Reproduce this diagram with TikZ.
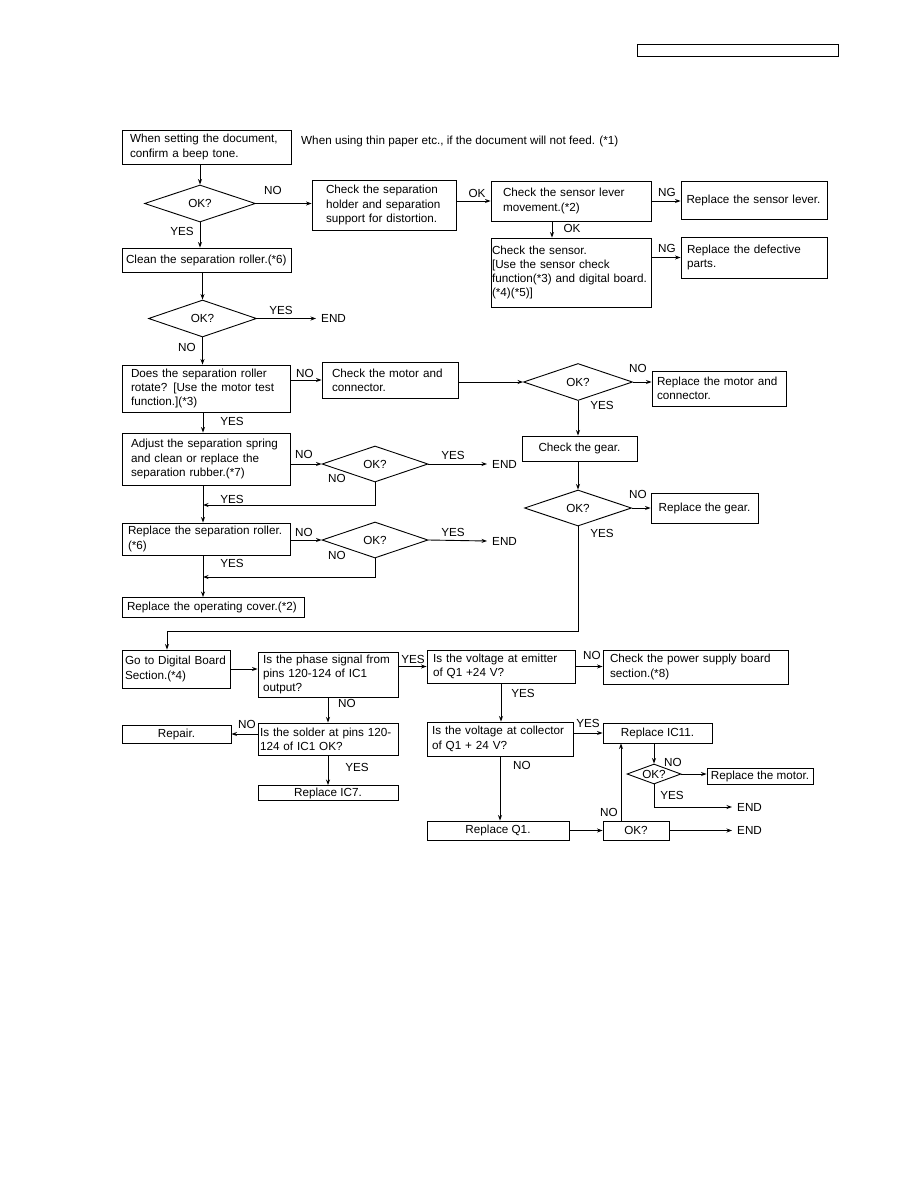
\documentclass[tikz,border=0pt]{standalone}
\usepackage{fontspec}
\setmainfont{Liberation Sans}
\usetikzlibrary{shapes.geometric,arrows.meta}

\begin{document}
\begin{tikzpicture}[x=1pt,y=-1pt,>={Stealth[length=5.5pt,width=4pt]},font=\fontsize{11.7}{14.3}\selectfont]
  \tikzstyle{box}=[draw, line width=0.9pt, align=left, inner sep=0pt]
  \tikzstyle{cbox}=[draw, line width=0.9pt, align=center, inner sep=0pt]
  \tikzstyle{dia}=[draw, line width=0.9pt, diamond, aspect=3, inner sep=0pt]
  \tikzstyle{lbl}=[inner sep=0pt]
  \tikzstyle{endlbl}=[anchor=west, inner xsep=5pt, inner ysep=0pt]
  \tikzstyle{flow}=[->, line width=0.9pt]

  \useasboundingbox (0,0) rectangle (918,1188);
  \fill[white] (0,0) rectangle (918,1188);
  \node[cbox, minimum width=201pt, minimum height=12pt] (hdr) at (737.5,50) {};

  % upper part: paper feed
  \node[box, minimum width=169pt, minimum height=34pt, text width=153pt] (b1) at (206.5,147)
    {When setting the document,\\confirm a beep tone.};
  \node[lbl, anchor=west] (note) at (301,141)
    {When using thin paper etc., if the document will not feed. (*1)};
  \node[dia, minimum width=111pt, minimum height=37pt] (d1) at (200,203.5) {OK?};
  \node[box, minimum width=144pt, minimum height=50pt, text width=116pt] (sep) at (384,205)
    {Check the separation\\holder and separation\\support for distortion.};
  \node[box, minimum width=160pt, minimum height=40pt, text width=136pt] (lever) at (571,201)
    {Check the sensor lever\\movement.(*2)};
  \node[box, minimum width=146pt, minimum height=38pt, text width=135pt] (rsl) at (754,200)
    {Replace the sensor lever.};
  \node[box, minimum width=160pt, minimum height=69pt, text width=158pt] (sensor) at (571,272.5)
    {Check the sensor.\\{[}Use the sensor check\\\mbox{function(*3) and digital board.}\\(*4)(*5)]};
  \node[box, minimum width=146pt, minimum height=41pt, text width=134pt] (rdp) at (754,257.5)
    {Replace the defective\\parts.};
  \node[box, minimum width=169pt, minimum height=24pt, text width=161pt] (clean) at (206.5,260)
    {Clean the separation roller.(*6)};
  \node[dia, minimum width=108pt, minimum height=37pt] (d2) at (202.5,318.5) {OK?};

  % separation roller
  \node[box, minimum width=168pt, minimum height=47pt, text width=150pt] (does) at (206,388.5)
    {Does the separation roller\\rotate? [Use the motor test\\function.](*3)};
  \node[box, minimum width=136pt, minimum height=36pt, text width=116pt] (motor) at (390,380)
    {Check the motor and\\connector.};
  \node[dia, minimum width=109pt, minimum height=37pt] (d3) at (578,382) {OK?};
  \node[box, minimum width=134pt, minimum height=35pt, text width=124pt] (rmc) at (719,388.5)
    {Replace the motor and\\connector.};
  \node[cbox, minimum width=115pt, minimum height=25pt] (gear) at (579.5,448.5) {Check the gear.};
  \node[dia, minimum width=107pt, minimum height=36pt] (d4) at (578,508) {OK?};
  \node[cbox, minimum width=107pt, minimum height=30pt] (rg) at (704.5,508) {Replace the gear.};
  \node[box, minimum width=168pt, minimum height=52pt, text width=150pt] (adjust) at (206,459)
    {Adjust the separation spring\\and clean or replace the\\separation rubber.(*7)};
  \node[dia, minimum width=106pt, minimum height=36pt] (d5) at (375,464) {OK?};
  \node[box, minimum width=168pt, minimum height=32pt, text width=156pt] (roller) at (206,539)
    {Replace the separation roller.\\(*6)};
  \node[dia, minimum width=106pt, minimum height=36pt] (d6) at (375,540) {OK?};
  \node[box, minimum width=182pt, minimum height=20pt, text width=172pt] (cover) at (213,607.5)
    {Replace the operating cover.(*2)};

  % digital board
  \node[box, minimum width=108pt, minimum height=38pt, text width=102pt] (go) at (176,669)
    {Go to Digital Board\\Section.(*4)};
  \node[box, minimum width=140pt, minimum height=45pt, text width=130pt] (phase) at (328,674.5)
    {Is the phase signal from\\pins 120-124 of IC1\\output?};
  \node[box, minimum width=148pt, minimum height=33pt, text width=136pt] (emit) at (501,666.5)
    {Is the voltage at emitter\\of Q1 +24 V?};
  \node[box, minimum width=185pt, minimum height=34pt, text width=171pt] (pwr) at (695.5,667)
    {Check the power supply board\\section.(*8)};
  \node[box, minimum width=146pt, minimum height=34pt, text width=136pt] (coll) at (500,739)
    {Is the voltage at collector\\of Q1 + 24 V?};
  \node[cbox, minimum width=109pt, minimum height=20pt] (ic11) at (657.5,733) {Replace IC11.};
  \node[cbox, minimum width=142pt, minimum height=19pt] (q1) at (498,830.5) {Replace Q1.};
  \node[cbox, minimum width=66pt, minimum height=19pt] (okb) at (636,830.5) {OK?};
  \node[dia, minimum width=54pt, minimum height=20pt] (d7) at (654,774) {OK?};
  \node[cbox, minimum width=106pt, minimum height=16pt] (rmot) at (760,776) {Replace the motor.};
  \node[cbox, minimum width=109pt, minimum height=18pt] (repair) at (176.5,734) {Repair.};
  \node[box, minimum width=140pt, minimum height=32pt, text width=136pt] (solder) at (328,739)
    {Is the solder at pins 120-\\124 of IC1 OK?};
  \node[cbox, minimum width=140pt, minimum height=15pt] (ic7) at (328,793) {Replace IC7.};

  \foreach \n/\x/\y in {end1/316/318.5, end2/487/464, end3/487/541, end4/732/807, end5/732/830.5}
    \node[endlbl] (\n) at (\x,\y) {END};

  \foreach \n/\x/\y/\t in {no1/273/190/NO, yes1/182/231/YES, ok1/477/193/OK, ng1/667/192/NG,
      ok2/572/228/OK, ng2/667/248/NG, yes2/281/310/YES, no2/187/347/NO, no3/305/373/NO,
      no4/638/368/NO, yes3/602/405/YES, yes4/232/421/YES, no5/304/454/NO, yes5/453/455/YES,
      no6/337/478/NO, yes6/232/499/YES, no7/638/494/NO, yes7/602/533/YES, no8/304/532/NO,
      yes8/453/532/YES, no9/337/555/NO, yes9/232/563/YES, yes10/413/659/YES, no10/592/655/NO,
      yes11/523/693/YES, no11/347/703/NO, no12/247/724/NO, yes12/588/723/YES, no13/673/762/NO,
      no14/522/765/NO, yes13/357/767/YES, yes14/672/795/YES, no15/609/812/NO}
    \node[lbl] (\n) at (\x,\y) {\t};

  \coordinate (spine) at (203,0);
  \coordinate (goin) at ([xshift=-9pt]go.north);
  \coordinate (lvout) at ([xshift=-19pt]lever.south);
  \coordinate (okup) at ([xshift=-15pt]okb.north);

  \draw[flow] (b1.south -| d1.north) -- (d1.north);
  \draw[flow] (d1.east) -- (d1.east -| sep.west);
  \draw[flow] (lever.west -| sep.east) -- (lever.west);
  \draw[flow] (lever.east) -- (lever.east -| rsl.west);
  \draw[flow] (lvout) -- (lvout |- sensor.north);
  \draw[flow] (rdp.west -| sensor.east) -- (rdp.west);
  \draw[flow] (d1.south) -- (d1.south |- clean.north);
  \draw[flow] (clean.south -| d2.north) -- (d2.north);
  \draw[flow] (d2.east) -- (end1.west);
  \draw[flow] (d2.south) -- (d2.south |- does.north);

  \draw[flow] (motor.west -| does.east) -- (motor.west);
  \draw[flow] (motor.east |- d3.west) -- (d3.west);
  \draw[flow] (d3.east) -- (d3.east -| rmc.west);
  \draw[flow] (d3.south) -- (d3.south |- gear.north);
  \draw[flow] (gear.south -| d4.north) -- (d4.north);
  \draw[flow] (d4.east) -- (d4.east -| rg.west);
  \draw[flow] (d4.south) |- (goin |- 0,631) -- (goin);
  \draw[flow] (does.south -| spine) -- (adjust.north -| spine);
  \draw[flow] (d5.west -| adjust.east) -- (d5.west);
  \draw[flow] (d5.east) -- (end2.west);
  \draw[flow] (d5.south) |- (spine |- 0,505);
  \draw[flow] (adjust.south -| spine) -- (roller.north -| spine);
  \draw[flow] (d6.west -| roller.east) -- (d6.west);
  \draw[flow] (d6.east) -- (end3.west);
  \draw[flow] (d6.south) |- (spine |- 0,577);
  \draw[flow] (roller.south -| spine) -- (cover.north -| spine);

  \draw[flow] (go.east) -- (go.east -| phase.west);
  \draw[flow] (emit.west -| phase.east) -- (emit.west);
  \draw[flow] (emit.east) -- (emit.east -| pwr.west);
  \draw[flow] (emit.south) -- (emit.south |- coll.north);
  \draw[flow] (phase.south) -- (phase.south |- solder.north);
  \draw[flow] (repair.east -| solder.west) -- (repair.east);
  \draw[flow] (solder.south) -- (solder.south |- ic7.north);
  \draw[flow] (ic11.west -| coll.east) -- (ic11.west);
  \draw[flow] (coll.south) -- (coll.south |- q1.north);
  \draw[flow] (q1.east) -- (q1.east -| okb.west);
  \draw[flow] (okb.east) -- (end5.west);
  \draw[flow] (okup) -- (okup |- ic11.south);
  \draw[flow] (d7.north |- ic11.south) -- (d7.north);
  \draw[flow] (d7.east) -- (d7.east -| rmot.west);
  \draw[flow] (d7.south) |- (end4.west);
\end{tikzpicture}
\end{document}
